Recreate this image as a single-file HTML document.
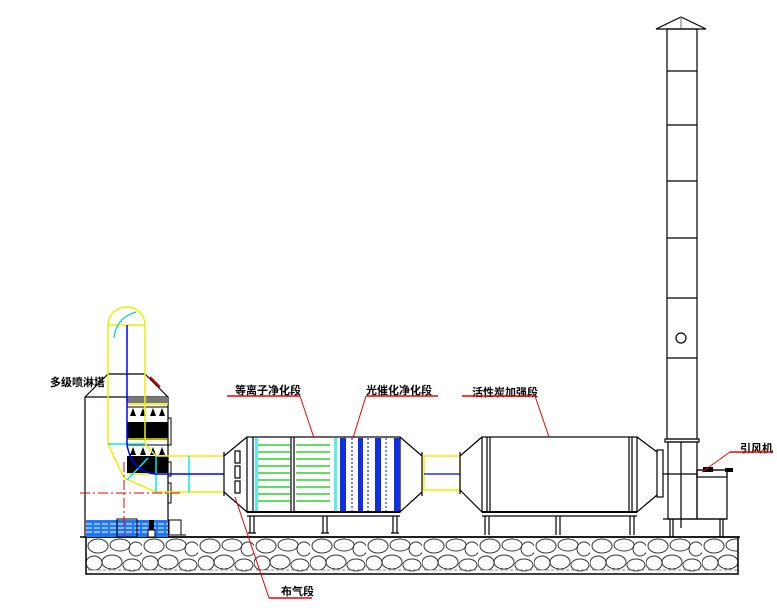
<!DOCTYPE html>
<html><head><meta charset="utf-8"><style>
html,body{margin:0;padding:0;background:#fff;}
svg{display:block;}
text{font-family:"Liberation Sans","Noto Sans CJK SC",sans-serif;font-weight:bold;font-size:11px;fill:#000;}
</style></head><body>
<svg width="777" height="612" viewBox="0 0 777 612" xmlns="http://www.w3.org/2000/svg">
<defs>
<pattern id="stones" x="86" y="537" width="56" height="37" patternUnits="userSpaceOnUse">
<rect width="56" height="37" fill="#fff"/>
<g fill="none" stroke="#333" stroke-width="1">
<ellipse cx="12" cy="9" rx="10" ry="7"/>
<ellipse cx="34" cy="8" rx="10" ry="6"/>
<ellipse cx="50" cy="12" rx="7" ry="7"/>
<ellipse cx="8" cy="26" rx="8" ry="7"/>
<ellipse cx="26" cy="25" rx="10" ry="7"/>
<ellipse cx="46" cy="28" rx="9" ry="6"/>
<path d="M2 33 L54 33" stroke="#888" stroke-dasharray="3,2"/>
</g>
</pattern>
</defs>

<!-- ground -->
<rect x="86" y="537" width="652" height="37" fill="url(#stones)" stroke="#000" stroke-width="1.5"/>
<line x1="80" y1="537" x2="740" y2="537" stroke="#000" stroke-width="1.5"/>

<!-- ===== Spray tower ===== -->
<g stroke="#000" stroke-width="1.2" fill="none">
<rect x="85" y="397" width="83" height="140"/>
<path d="M85 397 L108 374 M168 397 L145 374 M108 374 L145 374"/>
</g>
<line x1="150" y1="377" x2="160" y2="387" stroke="#c00" stroke-width="2"/>
<!-- water -->
<rect x="86" y="520" width="82" height="17" fill="#1e78ff"/>
<g stroke="#fff" stroke-width="1" stroke-dasharray="6,2">
<line x1="86" y1="524" x2="168" y2="524"/><line x1="86" y1="528" x2="168" y2="528"/><line x1="86" y1="532" x2="168" y2="532"/>
</g>
<rect x="117" y="519" width="20" height="18" fill="none" stroke="#000"/>
<rect x="149" y="520" width="5" height="10" fill="#000"/>
<rect x="148" y="530" width="7" height="7" fill="#fff" stroke="#000"/>
<rect x="169" y="520" width="12" height="15" fill="none" stroke="#000"/>
<line x1="169" y1="535" x2="186" y2="535" stroke="#000"/>
<!-- packing -->
<rect x="127" y="397" width="41" height="6" fill="#777"/>
<line x1="127" y1="404" x2="168" y2="404" stroke="#ee0" stroke-width="1.5"/>
<rect x="127" y="422" width="41" height="18" fill="#000"/>
<line x1="127" y1="439" x2="168" y2="439" stroke="#ee0" stroke-width="1.5"/>
<rect x="127" y="456" width="41" height="17" fill="#000"/>
<line x1="127" y1="474" x2="168" y2="474" stroke="#ee0" stroke-width="1.5"/>
<g fill="#000">
<path d="M130 416 l3 -8 l3 8z M140 416 l3 -8 l3 8z M150 416 l3 -8 l3 8z M159 416 l3 -8 l3 8z"/>
<path d="M130 455 l3 -8 l3 8z M140 455 l3 -8 l3 8z M150 455 l3 -8 l3 8z M159 455 l3 -8 l3 8z"/>
</g>
<line x1="127" y1="407" x2="168" y2="407" stroke="#000"/>
<line x1="127" y1="445" x2="168" y2="445" stroke="#000"/>
<rect x="168" y="418" width="3" height="27" fill="none" stroke="#000"/>
<rect x="168" y="462" width="3" height="14" fill="none" stroke="#000"/>
<rect x="168" y="483" width="3" height="20" fill="none" stroke="#000"/>
<!-- yellow riser -->
<g stroke="#ee0" stroke-width="1.5" fill="none">
<path d="M108 444 L108 325 A18.5 18 0 0 1 145 325 L145 444"/>
<path d="M108 444 L124 478 L156 492 L224 492 M145 444 L156 456 L224 456"/>
<line x1="108" y1="325" x2="145" y2="325"/>
</g>
<path d="M114 338 Q116 318 136 312" stroke="#0cc" stroke-width="1.2" fill="none"/>
<line x1="108" y1="444" x2="145" y2="444" stroke="#0ee" stroke-width="1.5"/>
<line x1="156" y1="456" x2="156" y2="492" stroke="#0ee" stroke-width="1.5"/>
<line x1="189" y1="456" x2="189" y2="492" stroke="#0ee" stroke-width="1.5"/>
<line x1="127" y1="480" x2="148" y2="458" stroke="#0ee" stroke-width="1.5"/>
<path d="M127 325 L127 445 M127 445 Q132 472 156 474 L224 474" stroke="#00f" stroke-width="1.5" fill="none"/>
<line x1="80" y1="493" x2="180" y2="493" stroke="#e00" stroke-dasharray="10,3,2,3"/>
<line x1="124" y1="462" x2="124" y2="537" stroke="#e00" stroke-dasharray="10,3,2,3"/>
<text x="50" y="386">多级喷淋塔</text>

<!-- ===== Plasma + UV box ===== -->
<g stroke="#000" stroke-width="1.2" fill="none">
<path d="M224 456 L247 437 M224 492 L247 512 M224 452 L224 496"/>
<rect x="247" y="437" width="153" height="75"/>
<path d="M400 437 L422 456 M400 512 L422 492 M422 452 L422 496"/>
<line x1="247" y1="512" x2="400" y2="512" stroke-width="2"/>
<line x1="247" y1="516" x2="400" y2="516"/>
<path d="M250 516 L250 533 M254 516 L254 533 M323 516 L323 533 M327 516 L327 533 M393 516 L393 533 M397 516 L397 533"/>
<path d="M248 533 L256 533 M321 533 L329 533 M391 533 L399 533"/>
<line x1="253" y1="437" x2="253" y2="512"/><line x1="291" y1="437" x2="291" y2="512"/><line x1="294" y1="437" x2="294" y2="512"/>
<rect x="235" y="451" width="5" height="12"/><rect x="235" y="466" width="5" height="12"/><rect x="235" y="481" width="5" height="12"/>
</g>
<rect x="255" y="438" width="3" height="73" fill="#5ee"/>
<rect x="334" y="438" width="3" height="73" fill="#5ee"/>
<g stroke="#0c0" stroke-width="1.3">
<line x1="258" y1="445" x2="290" y2="445"/><line x1="258" y1="452" x2="290" y2="452"/><line x1="258" y1="459" x2="290" y2="459"/><line x1="258" y1="466" x2="290" y2="466"/><line x1="258" y1="473" x2="290" y2="473"/><line x1="258" y1="480" x2="290" y2="480"/><line x1="258" y1="487" x2="290" y2="487"/><line x1="258" y1="494" x2="290" y2="494"/><line x1="258" y1="501" x2="290" y2="501"/>
<line x1="296" y1="445" x2="330" y2="445"/><line x1="296" y1="452" x2="330" y2="452"/><line x1="296" y1="459" x2="330" y2="459"/><line x1="296" y1="466" x2="330" y2="466"/><line x1="296" y1="473" x2="330" y2="473"/><line x1="296" y1="480" x2="330" y2="480"/><line x1="296" y1="487" x2="330" y2="487"/><line x1="296" y1="494" x2="330" y2="494"/><line x1="296" y1="501" x2="330" y2="501"/>
</g>
<g fill="#1030e0">
<rect x="340" y="438" width="6" height="73"/><rect x="358" y="438" width="5" height="73"/><rect x="375" y="438" width="6" height="73"/><rect x="394" y="438" width="6" height="73"/>
</g>
<g stroke="#00f" stroke-dasharray="2,2"><line x1="352" y1="438" x2="352" y2="511"/><line x1="368" y1="438" x2="368" y2="511"/><line x1="386" y1="438" x2="386" y2="511"/></g>

<!-- duct between -->
<g stroke="#ee0" stroke-width="1.5" fill="none"><rect x="424" y="456" width="36" height="34"/></g>
<line x1="424" y1="474" x2="460" y2="474" stroke="#00f" stroke-width="1.2"/>

<!-- ===== Carbon box ===== -->
<g stroke="#000" stroke-width="1.2" fill="none">
<path d="M460 456 L482 437 M460 490 L482 512 M460 452 L460 494"/>
<rect x="482" y="437" width="155" height="75"/>
<line x1="487" y1="437" x2="487" y2="512"/><line x1="490" y1="437" x2="490" y2="512"/>
<line x1="629" y1="437" x2="629" y2="512"/><line x1="632" y1="437" x2="632" y2="512"/>
<path d="M637 437 L657 452 M637 512 L657 495"/>
<rect x="657" y="450" width="6" height="47"/>
<line x1="482" y1="512" x2="637" y2="512" stroke-width="2"/>
<line x1="482" y1="516" x2="637" y2="516"/>
<path d="M485 516 L485 535 M489 516 L489 535 M556 516 L556 535 M560 516 L560 535 M630 516 L630 535 M634 516 L634 535"/>
</g>

<!-- ===== Stack ===== -->
<g stroke="#000" stroke-width="1.2" fill="none">
<path d="M656 29 L681 17 L706 29 Z"/>
<line x1="681" y1="17" x2="681" y2="29" stroke="#888"/>
<rect x="667" y="29" width="30" height="410"/>
<path d="M667 71 L697 71 M667 125 L697 125 M667 181 L697 181 M667 238 L697 238 M667 298 L697 298 M667 358 L697 358"/>
<circle cx="681" cy="338" r="5"/>
<rect x="665" y="439" width="34" height="3"/>
<rect x="668" y="442" width="29" height="77"/>
<line x1="663" y1="474" x2="697" y2="474"/>
<line x1="681" y1="442" x2="681" y2="528"/>
<rect x="697" y="470" width="30" height="49"/>
<rect x="697" y="470" width="30" height="7"/>
<line x1="663" y1="519" x2="727" y2="519"/>
<path d="M670 519 L670 537 M673 519 L673 537 M720 519 L720 537 M723 519 L723 537"/>
</g>
<rect x="703" y="467" width="10" height="5" fill="#000"/>
<rect x="725" y="468" width="8" height="4" fill="#000"/>

<!-- labels -->
<text x="235" y="394">等离子净化段</text>
<line x1="227" y1="396" x2="300" y2="396" stroke="#e00" stroke-width="1.5"/>
<line x1="300" y1="396" x2="314" y2="438" stroke="#e00"/>
<text x="366" y="394">光催化净化段</text>
<line x1="366" y1="396" x2="438" y2="396" stroke="#e00" stroke-width="1.5"/>
<line x1="366" y1="396" x2="353" y2="438" stroke="#e00"/>
<text x="472" y="396">活性炭加强段</text>
<line x1="462" y1="396" x2="535" y2="396" stroke="#e00" stroke-width="1.5"/>
<line x1="535" y1="396" x2="549" y2="437" stroke="#e00"/>
<text x="740" y="452">引风机</text>
<line x1="730" y1="452" x2="772" y2="452" stroke="#e00" stroke-width="1.5"/>
<line x1="730" y1="452" x2="702" y2="472" stroke="#e00"/>
<text x="281" y="595">布气段</text>
<line x1="269" y1="598" x2="312" y2="598" stroke="#e00" stroke-width="1.5"/>
<line x1="269" y1="598" x2="235" y2="497" stroke="#e00"/>
</svg>
</body></html>
